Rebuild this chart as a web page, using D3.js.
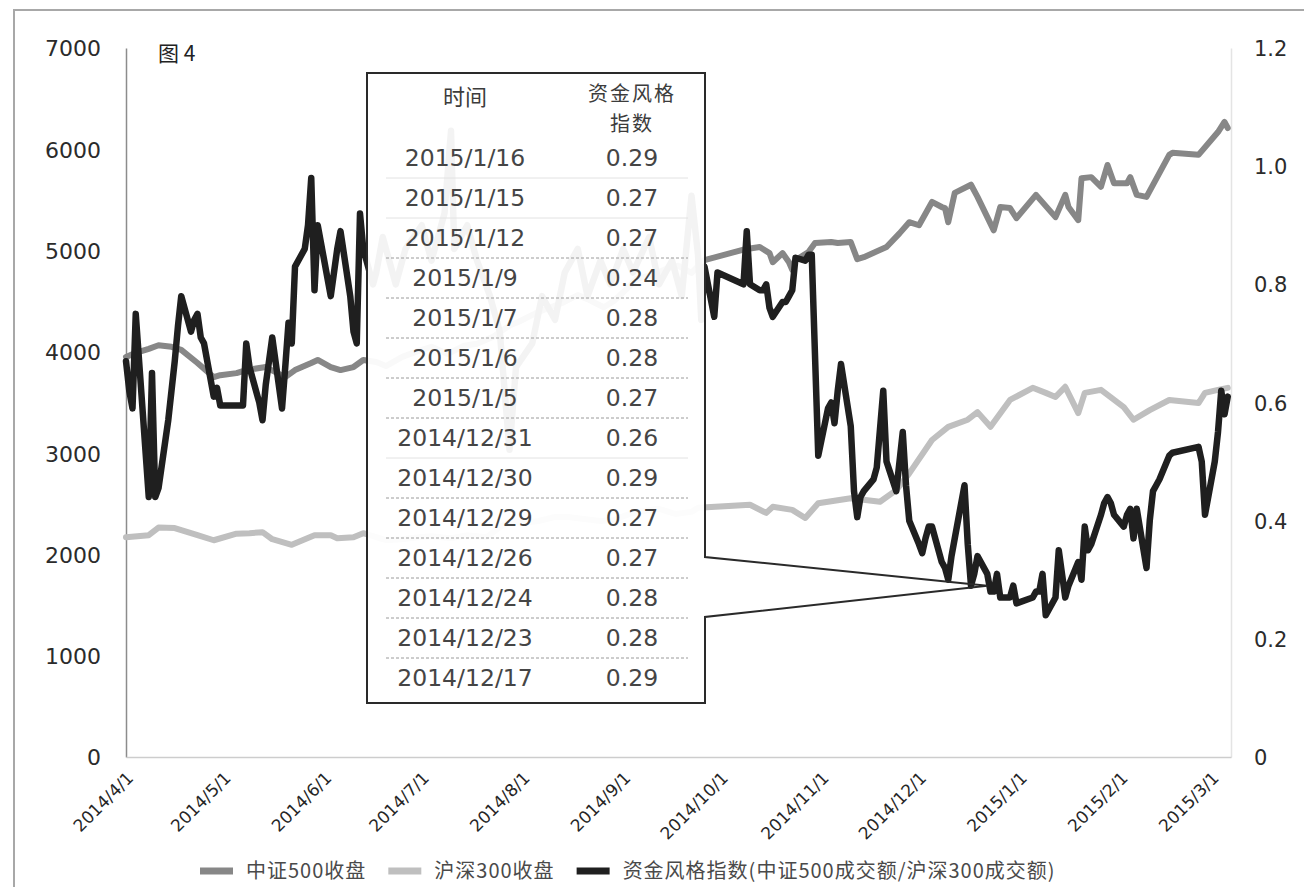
<!DOCTYPE html>
<html>
<head>
<meta charset="utf-8">
<script src="https://cdn.jsdelivr.net/npm/d3@7"></script>
<style>
  body { margin: 0; background: #fff; }
  svg { display: block; }
</style>
</head>
<body>
<svg id="chart" width="1304" height="887"></svg>
<script>
// 中证500 daily close (left axis)
const csi500Close = [
  ["2014-04-01",3950],["2014-04-04",3990],["2014-04-08",4030],["2014-04-11",4065],["2014-04-15",4050],
  ["2014-04-18",4020],["2014-04-23",3890],["2014-04-28",3750],["2014-04-30",3770],["2014-05-05",3790],
  ["2014-05-08",3820],["2014-05-14",3850],["2014-05-20",3750],["2014-05-23",3820],["2014-05-28",3890],
  ["2014-05-30",3920],["2014-06-03",3850],["2014-06-06",3820],["2014-06-10",3850],["2014-06-13",3920],
  ["2014-06-17",3900],["2014-06-20",3860],["2014-06-25",3950],["2014-06-30",4010],["2014-07-04",4050],
  ["2014-07-09",3980],["2014-07-14",4060],["2014-07-18",4080],["2014-07-23",4150],["2014-07-28",4260],
  ["2014-07-31",4300],["2014-08-05",4380],["2014-08-08",4420],["2014-08-13",4480],["2014-08-18",4560],
  ["2014-08-21",4520],["2014-08-26",4440],["2014-08-29",4500],["2014-09-03",4650],["2014-09-05",4720],
  ["2014-09-10",4760],["2014-09-15",4830],["2014-09-18",4850],["2014-09-22",4780],["2014-09-25",4880],
  ["2014-09-26",4905],["2014-10-08",5010],["2014-10-13",5035],["2014-10-16",4975],["2014-10-17",4885],
  ["2014-10-20",4975],["2014-10-22",4885],["2014-10-23",4810],["2014-10-24",4905],["2014-10-28",4985],
  ["2014-10-30",5075],["2014-11-04",5085],["2014-11-06",5075],["2014-11-10",5085],["2014-11-12",4915],
  ["2014-11-14",4935],["2014-11-21",5035],["2014-11-25",5170],["2014-11-28",5280],["2014-12-01",5250],
  ["2014-12-05",5480],["2014-12-08",5430],["2014-12-09",5420],["2014-12-10",5280],["2014-12-12",5570],
  ["2014-12-17",5650],["2014-12-19",5530],["2014-12-24",5200],["2014-12-26",5430],["2014-12-29",5420],
  ["2014-12-31",5320],["2015-01-06",5550],["2015-01-12",5330],["2015-01-15",5550],["2015-01-16",5430],
  ["2015-01-19",5300],["2015-01-20",5715],["2015-01-23",5725],["2015-01-26",5630],["2015-01-28",5845],
  ["2015-01-30",5665],["2015-02-03",5665],["2015-02-04",5725],["2015-02-06",5550],["2015-02-09",5530],
  ["2015-02-16",5945],["2015-02-17",5965],["2015-02-25",5945],["2015-03-03",6170],["2015-03-05",6270],
  ["2015-03-06",6210]
];

// 沪深300 daily close (left axis)
const hs300Close = [
  ["2014-04-01",2170],["2014-04-08",2190],["2014-04-11",2265],["2014-04-16",2260],["2014-04-23",2190],
  ["2014-04-28",2140],["2014-05-05",2205],["2014-05-09",2210],["2014-05-13",2220],["2014-05-16",2150],
  ["2014-05-22",2095],["2014-05-29",2190],["2014-06-03",2190],["2014-06-05",2160],["2014-06-10",2170],
  ["2014-06-13",2210],["2014-06-17",2170],["2014-06-20",2140],["2014-06-25",2150],["2014-06-30",2170],
  ["2014-07-04",2180],["2014-07-10",2160],["2014-07-15",2190],["2014-07-21",2170],["2014-07-25",2270],
  ["2014-07-29",2330],["2014-08-01",2310],["2014-08-06",2330],["2014-08-11",2370],["2014-08-15",2370],
  ["2014-08-20",2350],["2014-08-25",2330],["2014-08-29",2340],["2014-09-03",2400],["2014-09-09",2440],
  ["2014-09-12",2450],["2014-09-17",2400],["2014-09-22",2420],["2014-09-24",2460],["2014-10-10",2490],
  ["2014-10-15",2410],["2014-10-17",2470],["2014-10-23",2440],["2014-10-27",2360],["2014-10-31",2505],
  ["2014-11-10",2555],["2014-11-19",2520],["2014-11-24",2635],["2014-11-28",2800],["2014-12-05",3130],
  ["2014-12-10",3260],["2014-12-16",3330],["2014-12-19",3405],["2014-12-23",3260],["2014-12-29",3525],
  ["2015-01-05",3645],["2015-01-09",3595],["2015-01-12",3555],["2015-01-15",3655],["2015-01-19",3395],
  ["2015-01-21",3595],["2015-01-26",3625],["2015-02-02",3455],["2015-02-05",3330],["2015-02-10",3425],
  ["2015-02-16",3525],["2015-02-25",3495],["2015-02-27",3595],["2015-03-03",3625],["2015-03-06",3645]
];

// 资金风格指数 = 中证500成交额 / 沪深300成交额 (right axis)
const styleIndex = [
  ["2014-04-01",0.67],["2014-04-02",0.62],["2014-04-03",0.59],["2014-04-04",0.75],["2014-04-08",0.44],
  ["2014-04-09",0.65],["2014-04-10",0.44],["2014-04-11",0.455],["2014-04-14",0.57],["2014-04-15",0.62],
  ["2014-04-16",0.67],["2014-04-17",0.73],["2014-04-18",0.78],["2014-04-21",0.72],["2014-04-22",0.74],
  ["2014-04-23",0.75],["2014-04-24",0.71],["2014-04-25",0.70],["2014-04-28",0.61],["2014-04-29",0.625],
  ["2014-04-30",0.595],["2014-05-05",0.595],["2014-05-06",0.595],["2014-05-07",0.595],["2014-05-08",0.70],
  ["2014-05-09",0.66],["2014-05-12",0.60],["2014-05-13",0.57],["2014-05-14",0.63],["2014-05-15",0.67],
  ["2014-05-16",0.71],["2014-05-19",0.59],["2014-05-20",0.66],["2014-05-21",0.735],["2014-05-22",0.70],
  ["2014-05-23",0.83],["2014-05-26",0.86],["2014-05-27",0.90],["2014-05-28",0.98],["2014-05-29",0.79],
  ["2014-05-30",0.90],["2014-06-03",0.78],["2014-06-04",0.82],["2014-06-05",0.86],["2014-06-06",0.89],
  ["2014-06-09",0.78],["2014-06-10",0.72],["2014-06-11",0.70],["2014-06-12",0.92],["2014-06-13",0.86],
  ["2014-06-16",0.80],["2014-06-17",0.82],["2014-06-19",0.88],["2014-06-23",0.80],["2014-06-26",0.86],
  ["2014-07-01",0.90],["2014-07-04",0.84],["2014-07-08",0.92],["2014-07-10",1.06],["2014-07-11",0.86],
  ["2014-07-15",0.90],["2014-07-18",0.84],["2014-07-22",0.78],["2014-07-25",0.72],["2014-07-28",0.52],
  ["2014-07-30",0.66],["2014-08-04",0.70],["2014-08-07",0.78],["2014-08-11",0.74],["2014-08-14",0.82],
  ["2014-08-18",0.86],["2014-08-21",0.78],["2014-08-25",0.84],["2014-08-28",0.80],["2014-09-01",0.86],
  ["2014-09-04",0.82],["2014-09-09",0.88],["2014-09-12",0.80],["2014-09-16",0.84],["2014-09-19",0.78],
  ["2014-09-22",0.95],["2014-09-24",0.85],["2014-09-25",0.74],["2014-09-26",0.83],["2014-09-29",0.745],
  ["2014-09-30",0.82],["2014-10-08",0.80],["2014-10-09",0.89],["2014-10-10",0.80],["2014-10-13",0.79],
  ["2014-10-14",0.79],["2014-10-15",0.80],["2014-10-16",0.76],["2014-10-17",0.745],["2014-10-20",0.77],
  ["2014-10-21",0.77],["2014-10-22",0.78],["2014-10-23",0.79],["2014-10-24",0.845],["2014-10-27",0.84],
  ["2014-10-28",0.85],["2014-10-29",0.85],["2014-10-30",0.68],["2014-10-31",0.51],["2014-11-03",0.59],
  ["2014-11-04",0.60],["2014-11-05",0.565],["2014-11-06",0.62],["2014-11-07",0.665],["2014-11-10",0.56],
  ["2014-11-11",0.45],["2014-11-12",0.406],["2014-11-13",0.44],["2014-11-14",0.45],["2014-11-17",0.47],
  ["2014-11-18",0.49],["2014-11-19",0.555],["2014-11-20",0.62],["2014-11-21",0.50],["2014-11-24",0.45],
  ["2014-11-25",0.50],["2014-11-26",0.55],["2014-11-27",0.46],["2014-11-28",0.40],["2014-12-01",0.36],
  ["2014-12-02",0.345],["2014-12-03",0.37],["2014-12-04",0.39],["2014-12-05",0.39],["2014-12-08",0.33],
  ["2014-12-09",0.32],["2014-12-10",0.30],["2014-12-11",0.34],["2014-12-12",0.37],["2014-12-15",0.46],
  ["2014-12-16",0.36],["2014-12-17",0.29],["2014-12-18",0.31],["2014-12-19",0.34],["2014-12-22",0.31],
  ["2014-12-23",0.28],["2014-12-24",0.28],["2014-12-25",0.31],["2014-12-26",0.27],["2014-12-29",0.27],
  ["2014-12-30",0.29],["2014-12-31",0.26],["2015-01-05",0.27],["2015-01-06",0.28],["2015-01-07",0.28],
  ["2015-01-08",0.31],["2015-01-09",0.24],["2015-01-12",0.27],["2015-01-13",0.35],["2015-01-14",0.31],
  ["2015-01-15",0.27],["2015-01-16",0.29],["2015-01-19",0.33],["2015-01-20",0.30],["2015-01-21",0.39],
  ["2015-01-22",0.35],["2015-01-23",0.36],["2015-01-26",0.41],["2015-01-27",0.43],["2015-01-28",0.44],
  ["2015-01-29",0.43],["2015-01-30",0.41],["2015-02-02",0.39],["2015-02-03",0.41],["2015-02-04",0.42],
  ["2015-02-05",0.37],["2015-02-06",0.42],["2015-02-09",0.32],["2015-02-10",0.40],["2015-02-11",0.45],
  ["2015-02-12",0.46],["2015-02-13",0.47],["2015-02-16",0.51],["2015-02-17",0.515],["2015-02-25",0.525],
  ["2015-02-26",0.50],["2015-02-27",0.41],["2015-03-02",0.50],["2015-03-03",0.55],["2015-03-04",0.62],
  ["2015-03-05",0.58],["2015-03-06",0.61]
];

// Axis ticks
const monthTicks = ["2014-04-01","2014-05-01","2014-06-01","2014-07-01","2014-08-01","2014-09-01",
  "2014-10-01","2014-11-01","2014-12-01","2015-01-01","2015-02-01","2015-03-01"];
const leftTicks = [0,1000,2000,3000,4000,5000,6000,7000];
const rightTicks = [0,0.2,0.4,0.6,0.8,1.0,1.2];

// Inset table: days with a low index reading
const tableHeaderTime = "时间";
const tableHeaderValue = ["资金风格", "指数"];
const tableDates = ["2015/1/16","2015/1/15","2015/1/12","2015/1/9","2015/1/7","2015/1/6","2015/1/5",
  "2014/12/31","2014/12/30","2014/12/29","2014/12/26","2014/12/24","2014/12/23","2014/12/17"];
const tableValues = [0.29,0.27,0.27,0.24,0.28,0.28,0.27,0.26,0.29,0.27,0.27,0.28,0.28,0.29];
const calloutDate = "2014-12-22";
const calloutValue = 0.29;

const figureTitle = "图 4";
const legendLabels = ["中证500收盘", "沪深300收盘", "资金风格指数(中证500成交额/沪深300成交额)"];

// ---------------------------------------------------------------
const parse = d3.timeParse("%Y-%m-%d");
const svg = d3.select("#chart");
const plot = { left: 126, right: 1231, top: 48, bottom: 757 };
const colors = { csi500: "#878787", hs300: "#bfbfbf", style: "#1f1f1f" };
const numFont = "'DejaVu Sans', sans-serif";
const cjkFont = "'Noto Sans CJK SC', 'DejaVu Sans', sans-serif";

svg.append("rect").attr("width", 1304).attr("height", 887).attr("fill", "#fff");
// outer frame
svg.append("rect").attr("x", 14).attr("y", 10).attr("width", 1300).attr("height", 900)
  .attr("fill", "none").attr("stroke", "#a8a8a8").attr("stroke-width", 2);

const x = d3.scaleTime()
  .domain([parse("2014-04-01"), parse("2015-03-07")])
  .range([plot.left, plot.right]);
const yL = d3.scaleLinear().domain([0, 7000]).range([plot.bottom, plot.top]);
const yR = d3.scaleLinear().domain([0, 1.2]).range([plot.bottom, plot.top]);

// axes
const gLeft = svg.append("g").attr("transform", `translate(${plot.left},0)`)
  .call(d3.axisLeft(yL).tickValues(leftTicks).tickSize(0).tickSizeOuter(0).tickPadding(25)
    .tickFormat(d3.format("d")));
gLeft.select(".domain").attr("stroke", "#8c8c8c").attr("stroke-width", 1.5);
gLeft.selectAll("text").attr("font-family", numFont).attr("font-size", 22)
  .attr("fill", "#2b2b2b").attr("dy", "0.36em");

const gRight = svg.append("g").attr("transform", `translate(${plot.right},0)`)
  .call(d3.axisRight(yR).tickValues(rightTicks).tickSize(0).tickSizeOuter(0).tickPadding(23)
    .tickFormat(d => d === 0 ? "0" : d3.format(".1f")(d)));
gRight.select(".domain").attr("stroke", "#e4e4e4").attr("stroke-width", 1.5);
gRight.selectAll("text").attr("font-family", numFont).attr("font-size", 21)
  .attr("fill", "#2b2b2b").attr("dy", "0.36em");

const gBottom = svg.append("g").attr("transform", `translate(0,${plot.bottom})`)
  .call(d3.axisBottom(x).tickValues(monthTicks.map(parse)).tickSize(0).tickSizeOuter(0)
    .tickFormat(d3.timeFormat("%Y/%-m/%-d")));
gBottom.select(".domain").attr("stroke", "#cdcdcd").attr("stroke-width", 1.5);
gBottom.selectAll("text")
  .attr("font-family", numFont).attr("font-size", 17).attr("fill", "#262626")
  .attr("text-anchor", "end").attr("x", 0).attr("y", 0).attr("dy", 0)
  .attr("transform", "translate(8,22) rotate(-45)");

// series
const lineL = d3.line().x(d => x(parse(d[0]))).y(d => yL(d[1]));
const lineR = d3.line().x(d => x(parse(d[0]))).y(d => yR(d[1]));
const series = svg.append("g").attr("fill", "none")
  .attr("stroke-linejoin", "round").attr("stroke-linecap", "round");
series.append("path").datum(csi500Close).attr("d", lineL)
  .attr("stroke", colors.csi500).attr("stroke-width", 6);
series.append("path").datum(hs300Close).attr("d", lineL)
  .attr("stroke", colors.hs300).attr("stroke-width", 6);
series.append("path").datum(styleIndex).attr("d", lineR)
  .attr("stroke", colors.style).attr("stroke-width", 6.5);

// inset table with callout pointer
const box = { x0: 367, y0: 73, x1: 705, y1: 703, gapTop: 557, gapBottom: 617 };
svg.append("rect").attr("x", box.x0).attr("y", box.y0)
  .attr("width", box.x1 - box.x0).attr("height", box.y1 - box.y0)
  .attr("fill", "#fff").attr("fill-opacity", 0.95);
const tip = [x(parse(calloutDate)), yR(calloutValue)];
svg.append("path")
  .attr("d", `M${box.x0},${box.y0}H${box.x1}V${box.gapTop}L${tip[0]},${tip[1]}L${box.x1},${box.gapBottom}V${box.y1}H${box.x0}Z`)
  .attr("fill", "none").attr("stroke", "#2a2a2a").attr("stroke-width", 2);

const colDate = 465, colVal = 632;
const table = svg.append("g");
const headStyle = sel => sel.attr("font-family", cjkFont).attr("fill", "#3c3c3c")
  .attr("text-anchor", "middle");
table.append("text").attr("x", colDate).attr("y", 105).attr("font-size", 22)
  .text(tableHeaderTime).call(headStyle);
// two-line header for the value column
table.selectAll("text.vh").data(tableHeaderValue).join("text").attr("class", "vh")
  .attr("x", colVal).attr("y", (d, i) => 101 + i * 30)
  .attr("font-size", 20).attr("letter-spacing", 2).text(d => d).call(headStyle);

const rowY = i => 158 + i * 40;
const faintRows = new Set([0, 1, 7]);
table.selectAll("line.sep").data(tableDates.slice(0, -1)).join("line")
  .attr("class", "sep")
  .attr("x1", 386).attr("x2", 688)
  .attr("y1", (d, i) => rowY(i) + 20).attr("y2", (d, i) => rowY(i) + 20)
  .attr("stroke", (d, i) => faintRows.has(i) ? "#e2e2e2" : "#9a9a9a")
  .attr("stroke-width", 1)
  .attr("stroke-dasharray", (d, i) => faintRows.has(i) ? null : "3,2");
table.selectAll("text.d").data(tableDates).join("text").attr("class", "d")
  .attr("x", colDate).attr("y", (d, i) => rowY(i)).text(d => d);
table.selectAll("text.v").data(tableValues).join("text").attr("class", "v")
  .attr("x", colVal).attr("y", (d, i) => rowY(i)).text(d => d3.format(".2f")(d));
table.selectAll("text.d, text.v").attr("font-family", numFont).attr("font-size", 23.5)
  .attr("fill", "#454545").attr("text-anchor", "middle").attr("dy", "0.36em");

// figure label
svg.append("text").attr("x", 158).attr("y", 61).text(figureTitle)
  .attr("font-family", cjkFont).attr("font-size", 21).attr("fill", "#222");

// legend
const legend = svg.append("g").attr("transform", "translate(200,871)");
const legendColors = [colors.csi500, colors.hs300, colors.style];
let lx = 0;
legendLabels.forEach((label, i) => {
  legend.append("rect").attr("x", lx).attr("y", -3.5).attr("width", 33).attr("height", 7)
    .attr("fill", legendColors[i]);
  const t = legend.append("text").attr("x", lx + 46).attr("y", 0).attr("dy", "0.35em")
    .attr("font-family", cjkFont).attr("font-size", 20).attr("letter-spacing", 1)
    .attr("fill", "#4a4a4a").text(label);
  lx += 46 + t.node().getComputedTextLength() + 22;
});
</script>
</body>
</html>
